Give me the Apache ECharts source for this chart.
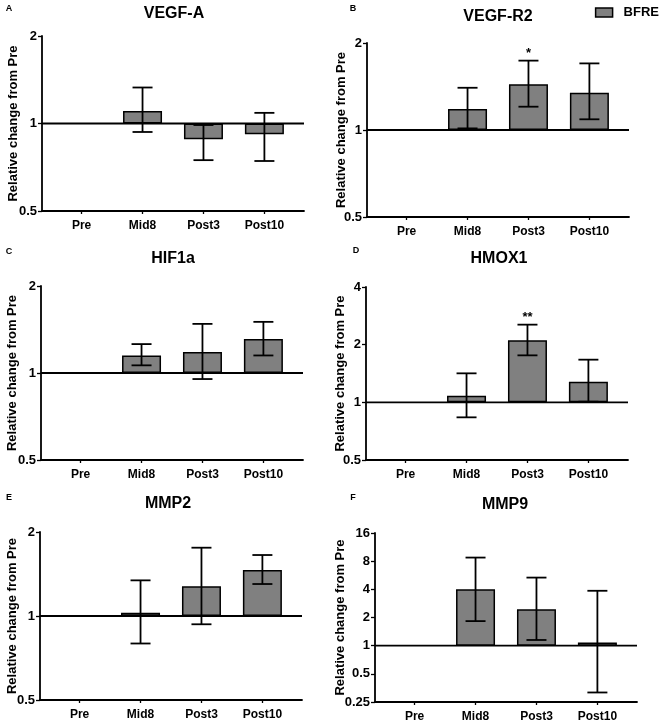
<!DOCTYPE html>
<html>
<head>
<meta charset="utf-8">
<script src="https://cdn.jsdelivr.net/npm/echarts@6/dist/echarts.min.js"></script>
<style>html,body{margin:0;padding:0;background:#fff}#c{width:666px;height:723px}</style>
</head>
<body>
<div id="c"></div>
<script>
// ---------- data ----------
const categories = ['Pre', 'Mid8', 'Post3', 'Post10'];
const seriesName = 'BFRE';
const yName = 'Relative change from Pre';
const titles = ['VEGF-A', 'VEGF-R2', 'HIF1a', 'HMOX1', 'MMP2', 'MMP9'];
const letters = ['A', 'B', 'C', 'D', 'E', 'F'];
const baselineValue = 1;

const vegfA    = [1, 1.105, 0.882, 0.919];
const vegfALo  = [null, 0.935, 0.748, 0.743];
const vegfAHi  = [null, 1.33, 0.988, 1.088];

const vegfR2   = [1, 1.182, 1.439, 1.346];
const vegfR2Lo = [null, 1.013, 1.204, 1.089];
const vegfR2Hi = [null, 1.40, 1.738, 1.70];

const hif1a    = [1, 1.15, 1.181, 1.31];
const hif1aLo  = [null, 1.063, 0.953, 1.15];
const hif1aHi  = [null, 1.259, 1.479, 1.503];

const hmox1    = [1, 1.083, 2.107, 1.282];
const hmox1Lo  = [null, 0.835, 1.759, 1.008];
const hmox1Hi  = [null, 1.417, 2.544, 1.67];

const mmp2     = [1, 1.028, 1.277, 1.462];
const mmp2Lo   = [null, 0.797, 0.934, 1.302];
const mmp2Hi   = [null, 1.342, 1.757, 1.654];

const mmp9     = [1, 4.0, 2.45, 1.08];
const mmp9Lo   = [null, 1.83, 1.15, 0.316];
const mmp9Hi   = [null, 8.74, 5.34, 3.86];

const sigNone  = ['', '', '', ''];
const sigB     = ['', '', '*', ''];
const sigD     = ['', '', '**', ''];

const yTicksA = [0.5, 1, 2];
const yTicksB = [0.5, 1, 2];
const yTicksC = [0.5, 1, 2];
const yTicksD = [0.5, 1, 2, 4];
const yTicksE = [0.5, 1, 2];
const yTicksF = [0.25, 0.5, 1, 2, 4, 8, 16];

const panelData = [
  { v: vegfA,  lo: vegfALo,  hi: vegfAHi,  sig: sigNone, ticks: yTicksA },
  { v: vegfR2, lo: vegfR2Lo, hi: vegfR2Hi, sig: sigB,    ticks: yTicksB },
  { v: hif1a,  lo: hif1aLo,  hi: hif1aHi,  sig: sigNone, ticks: yTicksC },
  { v: hmox1,  lo: hmox1Lo,  hi: hmox1Hi,  sig: sigD,    ticks: yTicksD },
  { v: mmp2,   lo: mmp2Lo,   hi: mmp2Hi,   sig: sigNone, ticks: yTicksE },
  { v: mmp9,   lo: mmp9Lo,   hi: mmp9Hi,   sig: sigNone, ticks: yTicksF }
];

// ---------- layout (pixels) ----------
const layout = [
  { left: 42,  top: 36,  height: 175, nameGap: 22, tx: 174, ty: 14,  lx: 9,   ly: 9 },
  { left: 367, top: 43,  height: 174, nameGap: 19, tx: 498, ty: 17,  lx: 353, ly: 9 },
  { left: 41,  top: 286, height: 174, nameGap: 22, tx: 173, ty: 259, lx: 9,   ly: 252 },
  { left: 366, top: 287, height: 173, nameGap: 19, tx: 499, ty: 259, lx: 356, ly: 251 },
  { left: 40,  top: 532, height: 168, nameGap: 21, tx: 168, ty: 504, lx: 9,   ly: 498 },
  { left: 375, top: 533, height: 174, nameGap: 28, tx: 505, ty: 505, lx: 353, ly: 498 }
];
const gridWidth = 262;
const X_MIN = -0.65, X_MAX = 3.65;

const FONT = '"Liberation Sans", Arial, Helvetica, sans-serif';
const BAR_GRAY = '#808080';
const LW = 1.8;

const chart = echarts.init(document.getElementById('c'), null, { renderer: 'canvas' });

const grids = [], xAxes = [], yAxes = [], series = [], graphics = [];

layout.forEach((L, i) => {
  const P = panelData[i];
  grids.push({ left: L.left, top: L.top, width: gridWidth, height: L.height, containLabel: false });
  xAxes.push({
    gridIndex: i, type: 'value', min: X_MIN, max: X_MAX,
    axisLine: { show: true, onZero: false, lineStyle: { color: '#000', width: LW } },
    axisTick: { show: true, length: 3, customValues: [0, 1, 2, 3], lineStyle: { color: '#000', width: 1.3 } },
    axisLabel: {
      show: true, customValues: [0, 1, 2, 3], margin: 9,
      formatter: v => categories[Math.round(v)] || '',
      color: '#000', fontFamily: FONT, fontWeight: 'bold', fontSize: 12
    },
    splitLine: { show: false }
  });
  const tk = P.ticks;
  yAxes.push({
    gridIndex: i, type: 'log', logBase: 2, min: tk[0], max: tk[tk.length - 1],
    name: yName, nameLocation: 'middle', nameGap: L.nameGap, nameRotate: 90,
    nameMoveOverlap: false,
    nameTextStyle: { color: '#000', fontFamily: FONT, fontWeight: 'bold', fontSize: 13 },
    axisLine: { show: true, onZero: false, lineStyle: { color: '#000', width: LW } },
    axisTick: { show: true, length: 4, customValues: tk, lineStyle: { color: '#000', width: 1.3 } },
    axisLabel: {
      show: true, customValues: tk, margin: 5,
      formatter: v => String(Math.round(v * 100) / 100),
      color: '#000', fontFamily: FONT, fontWeight: 'bold', fontSize: 13
    },
    splitLine: { show: false }
  });
  // baseline at y = 1 across the whole axis
  series.push({
    type: 'custom', name: 'base' + i, xAxisIndex: i, yAxisIndex: i,
    encode: { x: [0, 1], y: 2 },
    data: [[X_MIN, X_MAX, baselineValue]],
    z: 1, silent: true, animation: false, clip: false,
    renderItem: (params, api) => {
      const a = api.coord([api.value(0), api.value(2)]);
      const b = api.coord([api.value(1), api.value(2)]);
      return { type: 'line', shape: { x1: a[0], y1: a[1], x2: b[0], y2: b[1] },
               style: { stroke: '#000', lineWidth: LW } };
    }
  });
  series.push({
    type: 'bar', name: seriesName, xAxisIndex: i, yAxisIndex: i,
    barWidth: 39, z: 2,
    itemStyle: { color: BAR_GRAY, borderColor: '#000', borderWidth: 1.5 },
    data: P.v.map((val, k) => (val === baselineValue
      ? { value: [k, val], itemStyle: { borderWidth: 0, opacity: 0 } }
      : { value: [k, val] })),
    animation: false
  });
  const sig = P.sig;
  const errData = [];
  P.lo.forEach((lo, k) => { if (lo != null && P.hi[k] != null) errData.push([k, lo, P.hi[k]]); });
  series.push({
    type: 'custom', name: 'err' + i, xAxisIndex: i, yAxisIndex: i,
    encode: { x: 0, y: [1, 2] },
    data: errData,
    z: 5,
    animation: false,
    renderItem: (params, api) => {
      const x = api.value(0), lo = api.value(1), hi = api.value(2);
      const pH = api.coord([x, hi]);
      const pL = api.coord([x, lo]);
      const cap = 10;
      const st = { stroke: '#000', lineWidth: LW, fill: null };
      const children = [
        { type: 'line', shape: { x1: pH[0], y1: pH[1], x2: pL[0], y2: pL[1] }, style: st },
        { type: 'line', shape: { x1: pH[0] - cap, y1: pH[1], x2: pH[0] + cap, y2: pH[1] }, style: st },
        { type: 'line', shape: { x1: pL[0] - cap, y1: pL[1], x2: pL[0] + cap, y2: pL[1] }, style: st }
      ];
      const s = sig[Math.round(x)];
      if (s) {
        children.push({
          type: 'text', x: pH[0], y: pH[1] - 1,
          style: { text: s, fill: '#000', align: 'center', verticalAlign: 'bottom',
                   font: 'bold 13px ' + FONT }
        });
      }
      return { type: 'group', children };
    }
  });
  graphics.push({
    type: 'text', x: L.tx, y: L.ty,
    style: { text: titles[i], fill: '#000', align: 'center', verticalAlign: 'middle', font: 'bold 16px ' + FONT }
  });
  graphics.push({
    type: 'text', x: L.lx, y: L.ly,
    style: { text: letters[i], fill: '#000', align: 'center', verticalAlign: 'middle', font: 'bold 9px ' + FONT }
  });
});

chart.setOption({
  backgroundColor: '#fff',
  animation: false,
  legend: {
    data: [seriesName], right: 2, top: 1,
    icon: 'rect', itemWidth: 17, itemHeight: 9,
    textStyle: { color: '#000', fontFamily: FONT, fontWeight: 'bold', fontSize: 13, padding: [0, 0, 0, 6] },
    itemStyle: { color: BAR_GRAY, borderColor: '#000', borderWidth: 1.5, opacity: 1 }
  },
  grid: grids,
  xAxis: xAxes,
  yAxis: yAxes,
  series: series,
  graphic: graphics
});
</script>
</body>
</html>
